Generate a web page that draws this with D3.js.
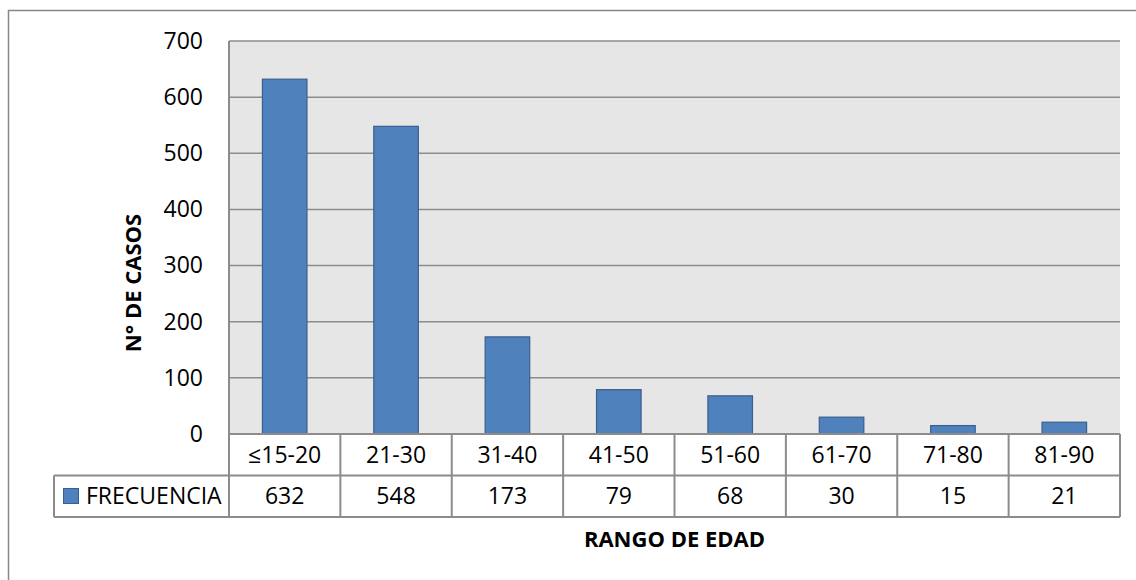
<!DOCTYPE html>
<html><head><meta charset="utf-8">
<script src="https://cdn.jsdelivr.net/npm/d3@7"></script>
<style>
html,body{margin:0;padding:0;background:#fff;}
svg{display:block;font-family:"Open Sans",sans-serif;}
</style></head>
<body>
<svg id="chart" width="1136" height="580"></svg>
<script>
const categories = ["≤15-20","21-30","31-40","41-50","51-60","61-70","71-80","81-90"];
const values = [632,548,173,79,68,30,15,21];
const seriesName = "FRECUENCIA";
const yTicks = [0,100,200,300,400,500,600,700];
const yTitle = "N° DE CASOS";
const xTitle = "RANGO DE EDAD";

const FONT = '"Open Sans",sans-serif';
const svg = d3.select("#chart");
const L = 229, R = 1120, T = 41, B = 434;
const rowH = 41.5;
const legendLeft = 54;
const fs = 23;

// outer border
svg.append("rect").attr("x",8.5).attr("y",10.5).attr("width",1140).attr("height",600)
  .attr("fill","#fff").attr("stroke","#888").attr("stroke-width",1.5);

const x = d3.scaleBand().domain(categories).range([L,R]).paddingInner(0.6).paddingOuter(0.3);
const xb = d3.scaleBand().domain(categories).range([L,R]);
const y = d3.scaleLinear().domain([0,700]).range([B,T]);

svg.append("rect").attr("x",L).attr("y",T).attr("width",R-L).attr("height",B-T).attr("fill","#e6e6e6");

// gridlines
svg.append("g").selectAll("line").data(yTicks.filter(d=>d>0)).join("line")
  .attr("x1",L).attr("x2",R).attr("y1",d=>y(d)).attr("y2",d=>y(d))
  .attr("stroke","#8c8c8c").attr("stroke-width",1.5);

// y labels via axis
const yAxis = svg.append("g").attr("transform",`translate(${L},0)`)
  .call(d3.axisLeft(y).tickValues(yTicks).tickSize(0).tickPadding(26))
  .attr("font-family",FONT).attr("font-size",fs);
yAxis.select(".domain").remove();
yAxis.selectAll("text").attr("fill","#000");

// bars
svg.append("g").selectAll("rect").data(values).join("rect")
  .attr("x",(d,i)=>x(categories[i])).attr("width",x.bandwidth())
  .attr("y",d=>y(d)).attr("height",d=>B-y(d))
  .attr("fill","#4f81bd").attr("stroke","#3a5f8e").attr("stroke-width",1.2);

// table
const tg = svg.append("g").attr("font-family",FONT);
const gridCol = "#8c8c8c";
tg.append("line").attr("x1",L).attr("x2",R).attr("y1",B).attr("y2",B).attr("stroke",gridCol).attr("stroke-width",2);
tg.append("line").attr("x1",legendLeft).attr("x2",R).attr("y1",B+rowH).attr("y2",B+rowH).attr("stroke",gridCol).attr("stroke-width",2);
tg.append("line").attr("x1",legendLeft).attr("x2",R).attr("y1",B+2*rowH).attr("y2",B+2*rowH).attr("stroke",gridCol).attr("stroke-width",2);
const vx = [L].concat(categories.map(c=>xb(c)+xb.bandwidth()));
tg.selectAll("line.v").data(vx).join("line").attr("class","v")
  .attr("x1",d=>d).attr("x2",d=>d).attr("y1",(d,i)=>i===0?T:B).attr("y2",B+2*rowH)
  .attr("stroke",gridCol).attr("stroke-width",2);
tg.append("line").attr("x1",legendLeft).attr("x2",legendLeft).attr("y1",B+rowH).attr("y2",B+2*rowH).attr("stroke",gridCol).attr("stroke-width",2);

tg.selectAll("text.cat").data(categories).join("text").attr("class","cat")
  .attr("x",d=>xb(d)+xb.bandwidth()/2).attr("y",B+rowH/2).attr("dy","0.35em")
  .attr("text-anchor","middle").attr("font-size",fs).text(d=>d);
tg.selectAll("text.val").data(values).join("text").attr("class","val")
  .attr("x",(d,i)=>xb(categories[i])+xb.bandwidth()/2).attr("y",B+rowH*1.5).attr("dy","0.35em")
  .attr("text-anchor","middle").attr("font-size",fs).text(d=>d);

// legend key
tg.append("rect").attr("x",63.5).attr("y",488.5).attr("width",15).attr("height",15)
  .attr("fill","#4f81bd").attr("stroke","#3a5f8e").attr("stroke-width",1);
tg.append("text").attr("x",86).attr("y",B+rowH*1.5).attr("dy","0.35em").attr("font-size",fs).text(seriesName);

// titles
svg.append("text").attr("transform",`translate(141,${(T+B+2*rowH)/2+4}) rotate(-90)`)
  .attr("text-anchor","middle").attr("font-size",22).attr("font-weight","bold").text(yTitle);
svg.append("text").attr("x",(L+R)/2).attr("y",547).attr("text-anchor","middle")
  .attr("font-size",22).attr("font-weight","bold").text(xTitle);
</script>
</body></html>
